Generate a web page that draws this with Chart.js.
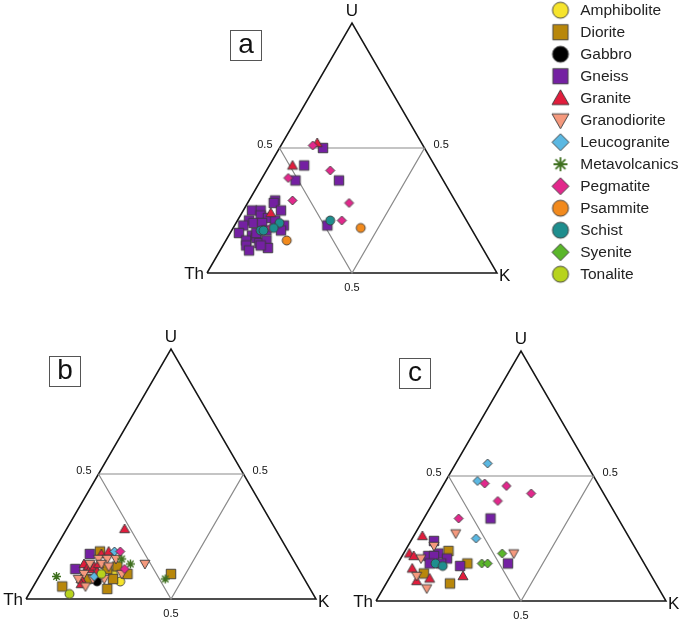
<!DOCTYPE html>
<html>
<head>
<meta charset="utf-8">
<script src="https://cdn.jsdelivr.net/npm/chart.js@4.4.0/dist/chart.umd.min.js"></script>
<style>
  html, body { margin: 0; padding: 0; background: #fff; width: 685px; height: 623px; overflow: hidden; }
  canvas { position: absolute; }
</style>
</head>
<body>
<canvas id="chartA" width="344" height="302" style="left:180px;top:-1px"></canvas>
<canvas id="chartB" width="344" height="302" style="left:-1px;top:325px"></canvas>
<canvas id="chartC" width="344" height="302" style="left:349px;top:327px"></canvas>
<canvas id="legendChart" width="200" height="310" style="left:542px;top:-4px"></canvas>
<script>
/* ===== datos ===== */
const rockTypes = ['Amphibolite', 'Diorite', 'Gabbro', 'Gneiss', 'Granite', 'Granodiorite', 'Leucogranite',
                   'Metavolcanics', 'Pegmatite', 'Psammite', 'Schist', 'Syenite', 'Tonalite'];
const cornerLabels = ['U', 'Th', 'K'];
const tickLabel = '0.5';

// composiciones [U, Th, K] en %
const plotA = {
  Gneiss: [[50,35,15],[43,45,12],[37,51,12],[37,36,27],[19,49,32],[29,62,9],[28,63,9],[25,62,13],[25,72,3],
           [25,69,6],[23,70,7],[22,68,10],[21,75,4],[20,74,6],[19,78,3],[16,81,3],[20,71,9],[21,66,13],
           [19,64,17],[17,66,17],[17,71,12],[15,77,8],[13,80,7],[14,76,10],[12,76,12],[13,73,14],[11,81,8],
           [9,81,10],[10,74,16],[11,76,13],[16,75,9]],
  Granite: [[52,36,12],[43,49,8],[24,66,10]],
  Pegmatite: [[51,38,11],[41,37,22],[38,53,9],[29,56,15],[28,37,35],[21,43,36],[18,69,13]],
  Psammite: [[18,38,44],[13,66,21]],
  Schist: [[21,47,32],[20,65,15],[18,68,14],[17,73,10],[17,72,11]]
};
const plotB = {
  Amphibolite: [[10,65,25],[7,64,29]],
  Diorite: [[10,45,45],[5,85,10],[4,70,26],[10,60,30],[19,65,16],[13,62,25],[8,66,26],[8,75,17],[12,66,22]],
  Gabbro: [[7,72,21]],
  Gneiss: [[18,69,13],[12,77,11],[13,72,15]],
  Granite: [[28,52,20],[18,65,17],[19,62,19],[14,73,13],[13,72,15],[12,72,16],[13,70,17],[11,70,19],
            [8,77,15],[6,78,16],[14,68,18]],
  Granodiorite: [[14,52,34],[16,67,17],[16,64,20],[16,61,23],[14,71,15],[14,67,19],[13,65,22],[10,62,28],
                 [8,73,19],[10,75,15],[5,77,18],[8,69,23],[8,78,14]],
  Leucogranite: [[19,60,21],[9,72,19]],
  Metavolcanics: [[9,85,6],[14,57,29],[8,48,44],[16,59,25]],
  Pegmatite: [[19,58,23],[12,60,28]],
  Tonalite: [[2,84,14],[10,69,21]]
};
const plotC = {
  Diorite: [[20,65,15],[15,61,24],[11,78,11],[7,71,22]],
  Gneiss: [[33,44,23],[15,47,38],[24,68,8],[19,69,12],[18,73,9],[18,71,11],[17,67,16],[15,74,11],[15,70,15],[14,64,22]],
  Granite: [[26,71,3],[19,79,2],[18,78,4],[13,81,6],[8,82,10],[9,77,14],[10,65,25]],
  Granodiorite: [[27,59,14],[22,69,9],[17,76,7],[19,43,38],[10,81,9],[5,80,15]],
  Leucogranite: [[55,34,11],[48,41,11],[25,53,22]],
  Pegmatite: [[47,39,14],[46,32,22],[43,25,32],[40,38,22],[33,55,12]],
  Schist: [[15,72,13],[14,70,16]],
  Syenite: [[19,47,34],[15,56,29],[15,54,31]]
};
const outline = [[0,100,0],[0,0,100],[100,0,0],[0,100,0]];
const midLines = [[50,50,0],[50,0,50],[0,50,50],[50,50,0]];

/* ===== estilos ===== */
const rockColors = ['#f6e42c', '#b8870b', '#000000', '#7420a2', '#e11d3c', '#f5997d', '#5bb8e2',
                    '#3e6f1e', '#e2288c', '#f28a1d', '#1e8e8e', '#5ab62a', '#b7d31d'];
const rockShapes = ['circle', 'square', 'circle', 'square', 'triUp', 'triDown', 'diamond',
                    'star', 'diamond', 'circle', 'circle', 'diamond', 'circle'];
const FONT = '"Liberation Sans", Arial, sans-serif';
const H = Math.sqrt(3) / 2;

function toXY([u, th, k]) {
  const s = u + th + k;
  return { x: (k + u / 2) / s, y: (u / s) * H };
}

function makeMarker(shape, color, size) {
  const c = document.createElement('canvas');
  c.width = c.height = Math.ceil(size) + 4;
  const g = c.getContext('2d');
  const m = c.width / 2, r = size / 2;
  g.fillStyle = color;
  g.strokeStyle = '#3a3a3a';
  g.lineWidth = 0.9;
  g.beginPath();
  if (shape === 'circle') {
    g.arc(m, m, r, 0, Math.PI * 2);
  } else if (shape === 'square') {
    g.rect(m - r * 0.95, m - r * 0.95, r * 1.9, r * 1.9);
  } else if (shape === 'triUp') {
    g.moveTo(m, m - r); g.lineTo(m + r, m + r * 0.75); g.lineTo(m - r, m + r * 0.75); g.closePath();
  } else if (shape === 'triDown') {
    g.moveTo(m, m + r); g.lineTo(m + r, m - r * 0.75); g.lineTo(m - r, m - r * 0.75); g.closePath();
  } else if (shape === 'diamond') {
    g.moveTo(m, m - r); g.lineTo(m + r, m); g.lineTo(m, m + r); g.lineTo(m - r, m); g.closePath();
  } else if (shape === 'star') {
    g.strokeStyle = color;
    g.lineWidth = size > 12 ? 1.8 : 1.4;
    for (let i = 0; i < 4; i++) {
      const a = i * Math.PI / 4;
      g.moveTo(m + Math.cos(a) * r, m + Math.sin(a) * r);
      g.lineTo(m - Math.cos(a) * r, m - Math.sin(a) * r);
    }
    g.stroke();
    return c;
  }
  g.fill();
  g.stroke();
  return c;
}

const plotMarkers = {}, legendMarkers = {};
rockTypes.forEach((n, i) => {
  const s = rockShapes[i];
  const small = s === 'circle' ? 9 : s === 'square' ? 10 : s === 'diamond' ? 9 : 10;
  const big = s === 'circle' ? 16 : s === 'square' ? 16 : s === 'diamond' ? 17 : s === 'star' ? 14 : 17;
  plotMarkers[n] = makeMarker(s, rockColors[i], s === 'star' ? 9 : small);
  legendMarkers[n] = makeMarker(s, rockColors[i], big);
});

/* ===== etiquetas del triángulo ===== */
const ternaryLabels = {
  id: 'ternaryLabels',
  afterDraw(chart, args, opts) {
    const { ctx, chartArea: a, scales: { x, y } } = chart;
    const px = v => x.getPixelForValue(v), py = v => y.getPixelForValue(v);
    ctx.save();
    ctx.fillStyle = '#111';
    ctx.textBaseline = 'middle';
    ctx.font = '17px ' + FONT;
    ctx.textAlign = 'center';
    ctx.fillText(cornerLabels[0], px(0.5), py(H) - 12);
    ctx.textAlign = 'right';
    ctx.fillText(cornerLabels[1], px(0) - 3, py(0) + 1);
    ctx.textAlign = 'left';
    ctx.fillText(cornerLabels[2], px(1) + 2, py(0) + 3);

    ctx.font = '11px ' + FONT;
    ctx.textAlign = 'right';
    ctx.fillText(tickLabel, px(0.25) - 7, py(H / 2) - 3);
    ctx.textAlign = 'left';
    ctx.fillText(tickLabel, px(0.75) + 9, py(H / 2) - 3);
    ctx.textAlign = 'center';
    ctx.fillText(tickLabel, px(0.5), py(0) + 15);

    // recuadro con la letra del panel
    const bx = Math.round(a.left + 23), by = Math.round(a.top + 7);
    ctx.strokeStyle = '#555';
    ctx.lineWidth = 1;
    ctx.strokeRect(bx + 0.5, by + 0.5, 31, 30);
    ctx.font = '28px ' + FONT;
    ctx.fillStyle = '#111';
    ctx.fillText(opts.letter, bx + 16, by + 15);
    ctx.restore();
  }
};

function ternaryChart(id, letter, groups) {
  // los tipos que van más abajo en la lista quedan encima (order menor = se pinta al final)
  const datasets = rockTypes.filter(n => groups[n]).map(n => ({
    label: n,
    data: groups[n].map(toXY),
    pointStyle: plotMarkers[n],
    pointRadius: 5,
    order: -rockTypes.indexOf(n),
    clip: false
  }));
  datasets.push({
    data: midLines.map(toXY), showLine: true, borderColor: '#8a8a8a', borderWidth: 1.2,
    pointRadius: 0, order: 10, clip: false
  });
  datasets.push({
    data: outline.map(toXY), showLine: true, borderColor: '#151515', borderWidth: 1.5,
    pointRadius: 0, order: 11, clip: false
  });

  new Chart(document.getElementById(id), {
    type: 'scatter',
    data: { datasets },
    options: {
      responsive: false,
      animation: false,
      events: [],
      layout: { padding: { left: 27, right: 27, top: 24, bottom: 28 } },
      scales: {
        x: { type: 'linear', min: 0, max: 1, display: false },
        y: { type: 'linear', min: 0, max: H, display: false }
      },
      plugins: { legend: { display: false }, tooltip: { enabled: false }, ternaryLabels: { letter } }
    },
    plugins: [ternaryLabels]
  });
}

ternaryChart('chartA', 'a', plotA);
ternaryChart('chartB', 'b', plotB);
ternaryChart('chartC', 'c', plotC);

/* ===== leyenda ===== */
new Chart(document.getElementById('legendChart'), {
  type: 'scatter',
  data: { datasets: rockTypes.map(n => ({ label: n, data: [], pointStyle: legendMarkers[n] })) },
  options: {
    responsive: false,
    animation: false,
    events: [],
    scales: { x: { display: false }, y: { display: false } },
    plugins: {
      tooltip: { enabled: false },
      legend: {
        position: 'left',
        align: 'start',
        maxWidth: 200,
        labels: {
          usePointStyle: true,
          pointStyleWidth: 24,
          padding: 6.5,
          color: '#222',
          font: { family: FONT, size: 15.5 },
          generateLabels: chart => chart.data.datasets.map((d, i) => ({
            text: d.label, pointStyle: d.pointStyle, datasetIndex: i, hidden: false,
            lineWidth: 0, fillStyle: '#000', strokeStyle: '#000', fontColor: '#222'
          }))
        }
      }
    }
  }
});
</script>
</body>
</html>
